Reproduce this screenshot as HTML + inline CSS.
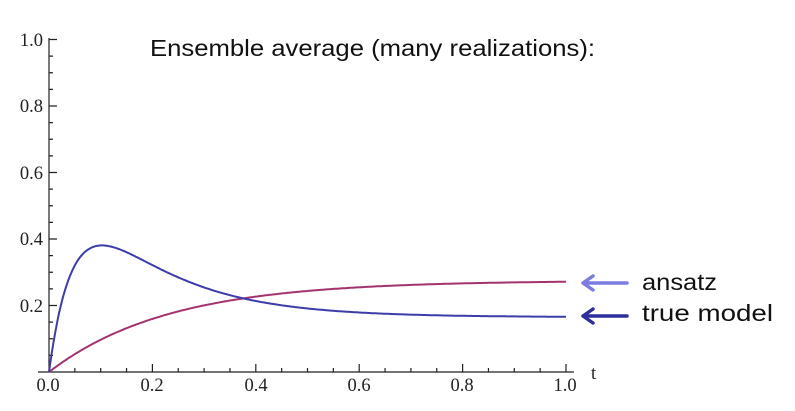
<!DOCTYPE html>
<html><head><meta charset="utf-8"><style>body{margin:0;background:#fff}svg{display:block}</style></head>
<body>
<svg id="s" width="795" height="411" xmlns="http://www.w3.org/2000/svg">
<g font-family="Liberation Serif, serif" font-size="18.5" fill="#222" text-anchor="middle">
<text x="48" y="391">0.0</text><text x="152" y="391">0.2</text><text x="256" y="391">0.4</text>
<text x="359" y="391">0.6</text><text x="462" y="391">0.8</text><text x="565" y="391">1.0</text>
<text x="591" y="379" text-anchor="start">t</text>
<g text-anchor="end"><text x="43" y="46">1.0</text><text x="43" y="112">0.8</text><text x="43" y="179">0.6</text><text x="43" y="245">0.4</text><text x="43" y="312">0.2</text></g>
</g>
<g id="ax" stroke="#222" stroke-width="1.2" fill="none"></g>
<path id="r" fill="none" stroke="#a3336f" stroke-width="2"/>
<path id="b" fill="none" stroke="#3c3caa" stroke-width="2"/>
<g font-family="Liberation Sans, sans-serif" font-size="23" fill="#111">
<text x="150" y="56" textLength="445" lengthAdjust="spacingAndGlyphs">Ensemble average (many realizations):</text>
<text x="642" y="290" textLength="75" lengthAdjust="spacingAndGlyphs">ansatz</text>
<text x="642" y="321" textLength="131" lengthAdjust="spacingAndGlyphs">true model</text>
</g>
<g stroke-width="3.5" fill="none" stroke-linecap="round" stroke-linejoin="round">
<path d="M627 283H583M593 276L583 283L593 290" stroke="#7b7be2"/>
<path d="M627 316H583M593 309L583 316L593 323" stroke="#2f2f9c"/>
</g>
</svg>
<script>
var X=t=>49+t*517, Y=v=>372-v*332.5;
var ax='M38 372H574M49 372V38';
for(var i=0;i<=20;i++){var x=X(i*0.05),L=i%4==0?8:4;ax+='M'+x+' 372V'+(372-L);var y=Y(i*0.05);ax+='M49 '+y+'H'+(49+L);}
document.getElementById('ax').innerHTML='<path d="'+ax+'"/>';
var r='',b='';
for(var i=0;i<=400;i++){var t=i/400;
var a=0.275*(1-Math.exp(-t/0.23));
var f=0.165+0.595*Math.exp(-t/0.16)-(0.76)*Math.exp(-t/0.05);
r+=(i?'L':'M')+X(t).toFixed(1)+' '+Y(a).toFixed(1);
b+=(i?'L':'M')+X(t).toFixed(1)+' '+Y(f).toFixed(1);}
document.getElementById('r').setAttribute('d',r);
document.getElementById('b').setAttribute('d',b);
</script>
</body></html>
